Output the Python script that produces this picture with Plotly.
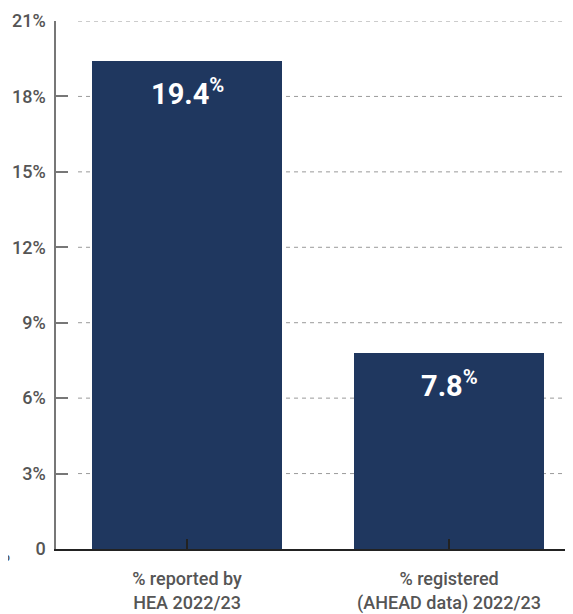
import plotly.graph_objects as go

categories = ["% reported by<br>HEA 2022/23", "% registered<br>(AHEAD data) 2022/23"]
values = [19.4, 7.8]
value_labels = ["19.4", "7.8"]
y_tickvals = [0, 3, 6, 9, 12, 15, 18, 21]
y_ticktext = ["0", "3%", "6%", "9%", "12%", "15%", "18%", "21%"]

BAR = "#1f375f"
TXT = "#555555"
FONT = "Roboto"

fig = go.Figure()
fig.add_trace(go.Bar(
    x=[0, 1], y=values, marker=dict(color=BAR, line=dict(width=0)),
    width=0.722, hoverinfo="skip",
))

shapes = []
for v in y_tickvals[1:]:
    shapes.append(dict(type="line", xref="paper", yref="y", x0=0.0426, x1=1.0,
                       y0=v, y1=v, line=dict(color="#9a9a9a", width=1, dash="4px,4px"),
                       layer="below"))

annotations = []
for i, (v, t) in enumerate(zip(values, value_labels)):
    annotations.append(dict(x=i, y=v, xref="x", yref="y", text=f"<b>{t}</b><sup><b>%</b></sup>",
                            showarrow=False, yshift=-31, yanchor="middle",
                            font=dict(family=FONT, size=29, color="white")))
annotations.append(dict(x=0, y=0, xref="paper", yref="y", text="%", showarrow=False,
                        xanchor="right", xshift=-44, yshift=-5, yanchor="middle",
                        font=dict(family=FONT, size=18, color=TXT, weight=500)))

fig.update_layout(
    width=565, height=606,
    margin=dict(l=48, r=0, t=13, b=65),
    paper_bgcolor="white", plot_bgcolor="white",
    showlegend=False,
    shapes=shapes,
    annotations=annotations,
    bargap=0,
    xaxis=dict(
        range=[-0.5, 1.473], tickmode="array", tickvals=[0, 1], ticktext=categories,
        showgrid=False, zeroline=False, showline=True, linecolor="#222222", linewidth=1.5,
        ticks="inside", tickson="boundaries", ticklen=10, tickcolor="#222222", tickwidth=1.5,
        tickfont=dict(family=FONT, size=18, color=TXT, weight=500), ticklabelstandoff=13,
        fixedrange=True,
    ),
    yaxis=dict(
        range=[0, 21], tickmode="array", tickvals=y_tickvals, ticktext=y_ticktext,
        showgrid=False, zeroline=False, showline=True, linecolor="#777777", linewidth=1.5,
        ticks="inside", ticklen=12, tickcolor="#777777", tickwidth=1.5,
        tickfont=dict(family=FONT, size=18, color=TXT, weight=500), ticklabelstandoff=5,
        fixedrange=True,
    ),
)

fig.write_html("out.html", config={"displayModeBar": False})
